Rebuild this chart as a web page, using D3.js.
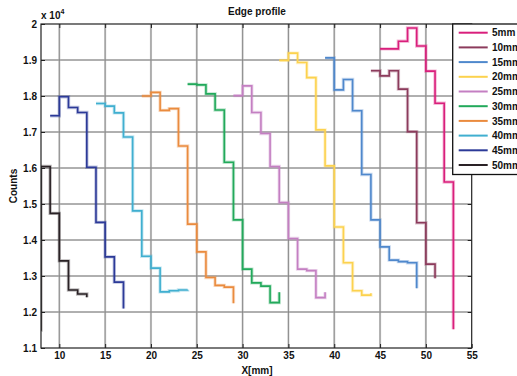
<!DOCTYPE html>
<html>
<head>
<meta charset="utf-8">
<script src="https://cdn.jsdelivr.net/npm/d3@7"></script>
<style>
  html, body { margin: 0; padding: 0; background: #fff; }
  svg { display: block; font-family: "Liberation Sans", Arial, Helvetica, sans-serif; }
</style>
</head>
<body>
<svg id="chart" width="517" height="376"></svg>
<script>
// Edge profile: stair-step count profiles for ten edge distances.
const legendLabels = ["5mm", "10mm", "15mm", "20mm", "25mm", "30mm", "35mm", "40mm", "45mm", "50mm"];
const seriesColors = ["#d91f7c", "#8c3b5c", "#4f88cc", "#fcd24e", "#c47fc2", "#22a95b", "#ea8b3e", "#40afd0", "#2c3a98", "#2a2226"];

// first x position (mm) of each series; samples are 1 mm apart
const startX = [45, 44, 39, 34, 29, 24, 19, 14, 9, 7];

// counts (x 10^4)
const counts5mm  = [1.931, 1.931, 1.952, 1.989, 1.939, 1.869, 1.780, 1.561, 1.152];
const counts10mm = [1.870, 1.856, 1.870, 1.819, 1.701, 1.448, 1.333, 1.294];
const counts15mm = [1.906, 1.817, 1.846, 1.759, 1.582, 1.456, 1.381, 1.344, 1.340, 1.337, 1.266];
const counts20mm = [1.899, 1.919, 1.893, 1.851, 1.706, 1.606, 1.436, 1.337, 1.259, 1.247, 1.252];
const counts25mm = [1.801, 1.828, 1.754, 1.696, 1.604, 1.504, 1.404, 1.319, 1.315, 1.240, 1.255];
const counts30mm = [1.833, 1.831, 1.806, 1.761, 1.616, 1.456, 1.319, 1.281, 1.272, 1.226, 1.255];
const counts35mm = [1.800, 1.810, 1.760, 1.765, 1.661, 1.444, 1.367, 1.296, 1.274, 1.269, 1.224];
const counts40mm = [1.779, 1.772, 1.753, 1.686, 1.481, 1.355, 1.322, 1.256, 1.259, 1.261, 1.262];
const counts45mm = [1.745, 1.798, 1.768, 1.754, 1.602, 1.449, 1.353, 1.283, 1.210];
const counts50mm = [1.150, 1.604, 1.474, 1.342, 1.261, 1.250, 1.241];

const allCounts = [counts5mm, counts10mm, counts15mm, counts20mm, counts25mm,
                   counts30mm, counts35mm, counts40mm, counts45mm, counts50mm];

const xTicks = [10, 15, 20, 25, 30, 35, 40, 45, 50, 55];
const yTicks = [1.1, 1.2, 1.3, 1.4, 1.5, 1.6, 1.7, 1.8, 1.9, 2];

const margin = { left: 41, top: 24, right: 45.3, bottom: 28 };
const W = 517, H = 376;
const svg = d3.select("#chart");

const x = d3.scaleLinear().domain([8, 55]).range([margin.left, W - margin.right]);
const y = d3.scaleLinear().domain([1.1, 2]).range([H - margin.bottom, margin.top]);

const x0 = x.range()[0], x1 = x.range()[1];
const y0 = y.range()[1], y1 = y.range()[0];

// grid
const grid = svg.append("g");
const gxVals = xTicks.filter(t => t < 55);
const gyVals = yTicks.filter(t => t > 1.1 && t < 2);
[["#d4d4d4", 2.2], ["#7a7a7a", 0.8]].forEach(([col, w]) => {
  grid.append("g").selectAll("line").data(gxVals).join("line")
    .attr("x1", d => x(d)).attr("x2", d => x(d)).attr("y1", y0).attr("y2", y1)
    .attr("stroke", col).attr("stroke-width", w);
  grid.append("g").selectAll("line").data(gyVals).join("line")
    .attr("x1", x0).attr("x2", x1).attr("y1", d => y(d)).attr("y2", d => y(d))
    .attr("stroke", col).attr("stroke-width", w);
});

// stair lines
svg.append("clipPath").attr("id", "plotClip")
  .append("rect").attr("x", x0).attr("y", y0).attr("width", x1 - x0).attr("height", y1 - y0);

const stairs = d3.line().x(d => x(d[0])).y(d => y(d[1])).curve(d3.curveStepAfter);
const seriesPts = allCounts.map((vals, i) => vals.map((v, k) => [startX[i] + k, v]));

const lines = svg.append("g").attr("clip-path", "url(#plotClip)");
seriesPts.forEach((pts, i) => {
  lines.append("path").attr("d", stairs(pts)).attr("fill", "none")
    .attr("stroke", seriesColors[i]).attr("stroke-opacity", 0.3).attr("stroke-width", 3.4);
  lines.append("path").attr("d", stairs(pts)).attr("fill", "none")
    .attr("stroke", seriesColors[i]).attr("stroke-width", 1.6);
});

// axes box with inward ticks on all four sides
const axisG = svg.append("g");
axisG.append("rect").attr("x", x0).attr("y", y0).attr("width", x1 - x0).attr("height", y1 - y0)
  .attr("fill", "none").attr("stroke", "#222").attr("stroke-width", 1.2);

const tickLen = 4;
const axBottom = d3.axisBottom(x).tickValues(xTicks).tickSize(-tickLen).tickPadding(3.5);
const axTop = d3.axisTop(x).tickValues(xTicks).tickSize(-tickLen).tickFormat("");
const axLeft = d3.axisLeft(y).tickValues(yTicks).tickSize(-tickLen).tickPadding(4)
  .tickFormat(d => d3.format("")(+d.toFixed(1)));
const axRight = d3.axisRight(y).tickValues(yTicks).tickSize(-tickLen).tickFormat("");

function styleAxis(g) {
  g.select(".domain").remove();
  g.selectAll(".tick line").attr("stroke", "#222").attr("stroke-width", 1);
  g.selectAll(".tick text").attr("fill", "#111").attr("font-size", "10px")
    .attr("font-weight", "bold").attr("font-family", "Liberation Sans, Arial, sans-serif");
}
axisG.append("g").attr("transform", `translate(0,${y1})`).call(axBottom).call(styleAxis);
axisG.append("g").attr("transform", `translate(0,${y0})`).call(axTop).call(styleAxis);
axisG.append("g").attr("transform", `translate(${x0},0)`).call(axLeft).call(styleAxis);
axisG.append("g").attr("transform", `translate(${x1},0)`).call(axRight).call(styleAxis);

// titles
svg.append("text").attr("x", 257).attr("y", 15).attr("text-anchor", "middle")
  .attr("font-size", "10px").attr("font-weight", "bold").attr("fill", "#111").text("Edge profile");
svg.append("text").attr("x", 257).attr("y", 374).attr("text-anchor", "middle")
  .attr("font-size", "10px").attr("font-weight", "bold").attr("fill", "#111").text("X[mm]");
svg.append("text").attr("transform", "translate(17,186) rotate(-90)").attr("text-anchor", "middle")
  .attr("font-size", "10px").attr("font-weight", "bold").attr("fill", "#111").text("Counts");
const expo = svg.append("text").attr("x", 41).attr("y", 19)
  .attr("font-size", "10px").attr("font-weight", "bold").attr("fill", "#111");
expo.append("tspan").text("x 10");
expo.append("tspan").attr("dy", -5).attr("font-size", "7px").text("4");

// legend
const legend = svg.append("g");
legend.append("rect").attr("x", 452.7).attr("y", 24).attr("width", 80).attr("height", 150.5)
  .attr("fill", "#fff").attr("stroke", "#111").attr("stroke-width", 1.3);
legendLabels.forEach((lab, i) => {
  const ly = 32.7 + i * 14.7;
  legend.append("line").attr("x1", 458.7).attr("x2", 487.7).attr("y1", ly).attr("y2", ly)
    .attr("stroke", seriesColors[i]).attr("stroke-width", 2);
  legend.append("text").attr("x", 492).attr("y", ly + 3.6)
    .attr("font-size", "10px").attr("font-weight", "bold").attr("fill", "#111").text(lab);
});
</script>
</body>
</html>
